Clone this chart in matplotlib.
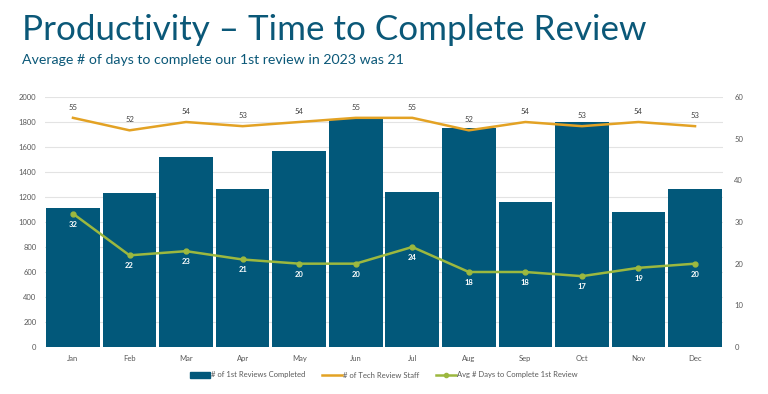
import matplotlib
matplotlib.use("Agg")
import matplotlib.pyplot as plt
from matplotlib.patches import Patch
from matplotlib.lines import Line2D

months = ["Jan", "Feb", "Mar", "Apr", "May", "Jun", "Jul", "Aug", "Sep", "Oct", "Nov", "Dec"]
reviews_completed = [1110, 1235, 1519, 1267, 1572, 1824, 1241, 1756, 1160, 1802, 1078, 1267]
tech_staff = [55, 52, 54, 53, 54, 55, 55, 52, 54, 53, 54, 53]
avg_days = [32, 22, 23, 21, 20, 20, 24, 18, 18, 17, 19, 20]
left_ticks = list(range(0, 2001, 200))
right_ticks = list(range(0, 61, 10))

BAR = "#02587A"
ORANGE = "#E3A224"
GREEN = "#9CB83F"
TITLE = "#0B5878"
TXT = "#595959"

plt.rcParams["font.family"] = ["Lato", "DejaVu Sans"]

fig = plt.figure(figsize=(7.68, 3.94), dpi=100)
ax = fig.add_axes([0.0582, 0.1193, 0.8836, 0.6345])
x = list(range(len(months)))
ax.bar(x, reviews_completed, width=0.95, color=BAR, zorder=2)
ax.set_xlim(-0.5, len(months) - 0.5)
ax.set_ylim(0, 2000)
ax.set_yticks(left_ticks)
ax.set_xticks(x)
ax.set_xticklabels(months)
ax.grid(axis="y", color="#E3E3E3", linewidth=0.8, zorder=0)
ax.set_axisbelow(True)
for s in ax.spines.values():
    s.set_visible(False)
ax.tick_params(length=0, labelsize=5.5, labelcolor=TXT, pad=6)

ax2 = ax.twinx()
ax2.set_ylim(0, 60)
ax2.set_yticks(right_ticks)
for s in ax2.spines.values():
    s.set_visible(False)
ax2.tick_params(length=0, labelsize=5.5, labelcolor=TXT, pad=8)
ax2.plot(x, tech_staff, color=ORANGE, linewidth=1.8, zorder=3)
ax2.plot(x, avg_days, color=GREEN, linewidth=1.8, marker="o", markersize=3.5, zorder=3)
for xi, v in zip(x, tech_staff):
    ax2.annotate(str(v), (xi, v), xytext=(0, 5), textcoords="offset points",
                 ha="center", va="bottom", fontsize=5.5, color="#404040")
for xi, v in zip(x, avg_days):
    ax2.annotate(str(v), (xi, v), xytext=(0, -5), textcoords="offset points",
                 ha="center", va="top", fontsize=5.5, color="white", fontweight="bold")

handles = [Patch(color=BAR),
           Line2D([0], [0], color=ORANGE, linewidth=1.8),
           Line2D([0], [0], color=GREEN, linewidth=1.8, marker="o", markersize=3)]
labels = ["# of 1st Reviews Completed", "# of Tech Review Staff", "Avg # Days to Complete 1st Review"]
fig.legend(handles, labels, loc="center", bbox_to_anchor=(0.5, 1 - 375 / 394), ncol=3,
           frameon=False, fontsize=5.5, labelcolor=TXT, handlelength=2.6, columnspacing=2.2,
           handletextpad=0.15)

fig.text(22 / 768, 1 - 30 / 394, "Productivity \u2013 Time to Complete Review", fontsize=25.2,
         color=TITLE, ha="left", va="center")
fig.text(22 / 768, 1 - 60 / 394, "Average # of days to complete our 1st review in 2023 was 21",
         fontsize=10.2, color=TITLE, ha="left", va="center")

fig.savefig("out.png", dpi=100, facecolor="white")
